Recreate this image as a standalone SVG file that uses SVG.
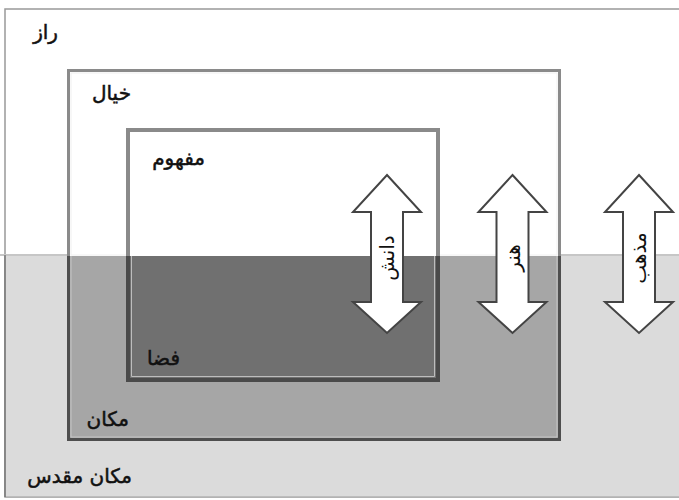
<svg xmlns="http://www.w3.org/2000/svg" width="679" height="500" viewBox="0 0 679 500">
<defs>
<style>
.lbl{font-family:"DejaVu Sans",sans-serif;font-size:20px;fill:#111;stroke:#111;stroke-width:0.5;text-anchor:end}
.al{font-family:"DejaVu Sans",sans-serif;font-size:20px;fill:#111;text-anchor:middle}
.arrow{fill:#fff;stroke:#444;stroke-width:2;stroke-linejoin:miter}
</style>
<path id="arr" d="M0,-80 L34,-43 L16,-43 L16,47 L34,47 L0,78 L-34,47 L-16,47 L-16,-43 L-34,-43 Z"/>
</defs>
<g id="raz">
<rect x="5" y="9" width="690" height="488" fill="#fff" stroke="#999" stroke-width="1.5"/>
<rect x="5.75" y="255" width="690" height="241.25" fill="#dbdbdb"/>
<line x1="0" y1="255" x2="679" y2="255" stroke="#c6c6c6" stroke-width="2"/>
<line x1="5" y1="255" x2="5" y2="497" stroke="#777" stroke-width="1.5"/>
<text class="lbl" x="58" y="39">راز</text>
</g>
<g id="makan-moghaddas">
<text class="lbl" x="132" y="483">مکان مقدس</text>
</g>
<g id="khiyal">
<rect x="68.5" y="70.5" width="491" height="369" fill="#fff" stroke="#8a8a8a" stroke-width="3"/>
<rect x="70" y="256" width="488" height="182.5" fill="#a6a6a6"/>
<path d="M68.5,256 V439.5 H559.5 V256" fill="none" stroke="#4e4e4e" stroke-width="3"/>
<path d="M71,256 V437 H557 V256" fill="none" stroke="#c4c4c4" stroke-width="1"/>
<rect x="71" y="73" width="486" height="182" fill="none" stroke="#f0f0f0" stroke-width="1"/>
<text class="lbl" x="131" y="100">خیال</text>
</g>
<g id="makan">
<text class="lbl" x="129" y="426">مکان</text>
</g>
<g id="mafhoom">
<rect x="128" y="130" width="310" height="250" fill="#fff" stroke="#8a8a8a" stroke-width="4"/>
<rect x="130" y="256" width="306" height="122" fill="#707070"/>
<path d="M128,256 V380 H438 V256" fill="none" stroke="#4a4a4a" stroke-width="4"/>
<path d="M131.5,256 V376.5 H434.5 V256" fill="none" stroke="#bdbdbd" stroke-width="1"/>
<text class="lbl" x="205" y="165">مفهوم</text>
</g>
<g id="faza">
<text class="lbl" x="180" y="365">فضا</text>
</g>
<g id="connectors">
<g id="danesh">
<use href="#arr" class="arrow" transform="translate(387,255)"/>
<text class="al" transform="translate(387,258) rotate(-90)" y="7">دانش</text>
</g>
<g id="honar">
<use href="#arr" class="arrow" transform="translate(512.5,255)"/>
<text class="al" transform="translate(512.5,258) rotate(-90)" y="7">هنر</text>
</g>
<g id="mazhab">
<use href="#arr" class="arrow" transform="translate(639,255)"/>
<text class="al" transform="translate(639,258) rotate(-90)" y="7">مذهب</text>
</g>
</g>
</svg>
